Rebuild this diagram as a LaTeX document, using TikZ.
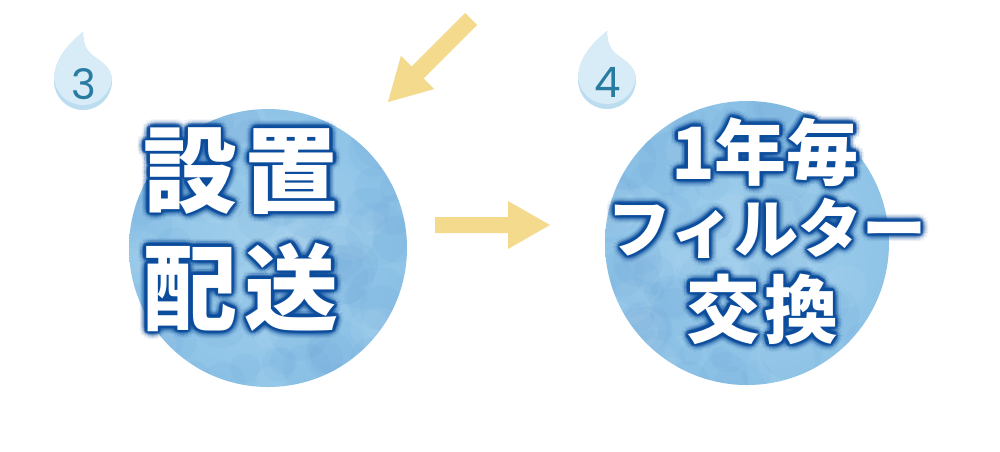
\documentclass[tikz,border=0pt]{standalone}
\usepackage{fontspec}
\newfontfamily\cjk{Noto Sans CJK JP}
\newfontfamily\numfont{Poppins}
\usetikzlibrary{calc}

\definecolor{circleblue}{HTML}{8FC4E7}
\definecolor{circleinner}{HTML}{A2CFEC}
\definecolor{patchblue}{HTML}{3F82C2}
\definecolor{glowblue}{HTML}{0B4C9C}
\definecolor{dropface}{HTML}{D8ECF7}
\definecolor{droprim}{HTML}{BCDDF0}
\definecolor{dropnum}{HTML}{2A7BA1}
\definecolor{arrowyellow}{HTML}{F3DA8D}

\tikzset{
  glowtext/.style={text=glowblue, inner sep=0pt},
  labeltext/.style={text=white, inner sep=0pt},
  badgenum/.style={text=dropnum, inner sep=0pt, font=\numfont\fontsize{42}{42}\selectfont},
  arrowshape/.style={fill=arrowyellow, draw=none},
  waterdrop/.pic={
    \begin{scope}
      \clip (0,-49) .. controls (-18,-34) and (-29,-20) .. (-29,0)
        .. controls (-29,16) and (-16,29) .. (0,29)
        .. controls (16,29) and (29,16) .. (29,0)
        .. controls (29,-14) and (17,-20) .. (9,-26)
        .. controls (3,-31) and (0,-38) .. (0,-49) -- cycle;
      \fill[droprim] (-40,-60) rectangle (40,40);
      \fill[dropface, yshift=5pt] (0,-49) .. controls (-18,-34) and (-29,-20) .. (-29,0)
        .. controls (-29,16) and (-16,29) .. (0,29)
        .. controls (16,29) and (29,16) .. (29,0)
        .. controls (29,-14) and (17,-20) .. (9,-26)
        .. controls (3,-31) and (0,-38) .. (0,-49) -- cycle;
    \end{scope}
  }
}

% white text with a soft dark blue halo: size, name, position, text
\newcommand\glowlabel[4]{%
  \foreach \gr/\go in {8/0.06,6/0.1,4/0.22,2.5/0.55}{
    \foreach \ga in {0,30,...,330}{
      \node[glowtext, opacity=\go, xshift={\gr*cos(\ga)}, yshift={\gr*sin(\ga)},
        font=\cjk\bfseries\fontsize{#1}{#1}\selectfont] at (#3) {#4};
    }
  }
  \node[labeltext, font=\cjk\bfseries\fontsize{#1}{#1}\selectfont] (#2) at (#3) {#4};
}

\begin{document}
\begin{tikzpicture}[x=1pt, y=-1pt]
  \useasboundingbox (0,0) rectangle (1000,451);
  \fill[white] (0,0) rectangle (1000,451);
  \pgfmathsetseed{11}

  % the two watercolour discs
  \foreach \cx/\cy/\r in {268/248/139, 747/243/142}{
    \begin{scope}
      \clip (\cx,\cy) circle (\r);
      \shade[inner color=circleinner, outer color=circleblue] (\cx,\cy) circle (\r);
      \foreach \k in {1,...,70}{
        \fill[patchblue, opacity=0.05] ({\cx+\r*rand},{\cy+\r*rand}) circle ({10+22*rnd});
      }
      \foreach \k in {1,...,25}{
        \fill[white, opacity=0.05] ({\cx+\r*rand},{\cy+\r*rand}) circle ({10+20*rnd});
      }
    \end{scope}
  }

  % badges
  \pic at (83,81) {waterdrop};
  \node[badgenum] (num3) at (84,84) {3};
  \pic at (607,80) {waterdrop};
  \node[badgenum] (num4) at (608,82) {4};

  % yellow arrows
  \fill[arrowshape] (465,13) -- (477,25) -- (423.5,78.5) -- (434.1,89.1) -- (388,102)
    -- (400.9,55.9) -- (411.5,66.5) -- cycle;
  \fill[arrowshape] (435,217) -- (508,217) -- (508,201) -- (550,225) -- (508,249)
    -- (508,233) -- (435,233) -- cycle;

  % texts
  \glowlabel{94}{setchi}{241,171}{設\kern8pt置}
  \glowlabel{94}{haiso}{241,287}{配\kern8pt送}
  \glowlabel{72}{nengoto}{765,152}{1年毎}
  \glowlabel{64}{filter}{767,228}{フィルター}
  \glowlabel{74}{kokan}{762,309}{交\kern4pt換}
\end{tikzpicture}
\end{document}
